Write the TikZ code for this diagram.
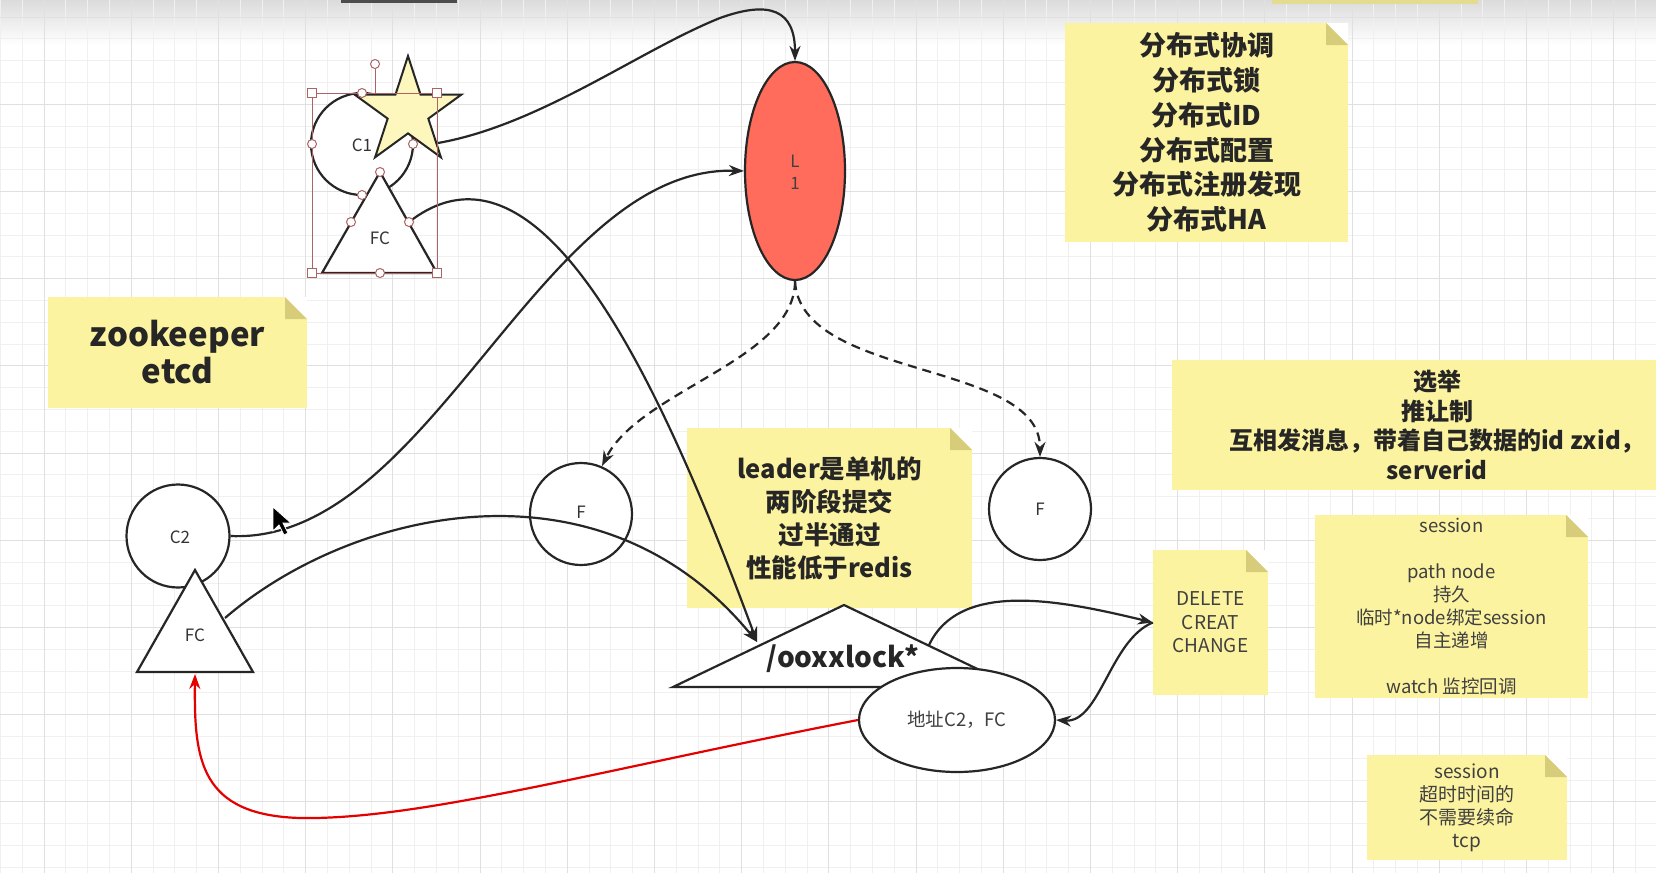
\documentclass[tikz,border=0pt]{standalone}
\usepackage{fontspec}
\setmainfont{Noto Sans CJK SC}
\usetikzlibrary{shapes.geometric,arrows.meta}
\definecolor{notey}{RGB}{252,243,160}
\definecolor{notefold}{RGB}{214,204,122}
\definecolor{leadred}{RGB}{255,108,92}
\definecolor{handle}{RGB}{170,100,100}
\definecolor{gridminor}{RGB}{240,240,240}
\definecolor{gridmajor}{RGB}{224,224,224}
\tikzset{
  shp/.style={draw=black!85, line width=2.2pt, fill=white, inner sep=0pt},
  lbl/.style={font=\fontsize{17}{22}\selectfont, text=black!80, align=center},
  conn/.style={draw=black!85, line width=2.2pt, -{Stealth[length=15pt,width=11pt]}},
  sticky/.style={rectangle, inner sep=0pt, fill=notey, align=center, text=black!85,
    path picture={
      \fill[white] (path picture bounding box.north east) -- ++(-22,0) -- ++(22,22) -- cycle;
      \fill[notefold] ([xshift=-22pt]path picture bounding box.north east) -- ++(22,22) -- ++(-22,0) -- cycle;}},
  bignote/.style={sticky, font=\bfseries\fontsize{27}{34.8}\selectfont},
  smallnote/.style={sticky, font=\fontsize{18.5}{23}\selectfont, text=black!75},
  hsq/.style={draw=handle, fill=white, line width=1pt, minimum size=9pt, inner sep=0pt, rectangle},
  hci/.style={draw=handle, fill=white, line width=1pt, minimum size=9pt, inner sep=0pt, circle}
}
\begin{document}
\begin{tikzpicture}[x=1pt, y=-1pt]
  \useasboundingbox (0,0) rectangle (1656,873);
  \clip (0,0) rectangle (1656,873);
  % fundo e grade
  \fill[white] (0,0) rectangle (1656,873);
  \shade[top color=black!14, bottom color=white] (0,0) rectangle (1656,45);
  \foreach \gx in {0.4,22.2,...,1656} \draw[gridminor, line width=1pt] (\gx,0) -- (\gx,873);
  \foreach \gy in {-4.8,17,...,873} \draw[gridminor, line width=1pt] (0,\gy) -- (1656,\gy);
  \foreach \gx in {44,131.2,...,1656} \draw[gridmajor, line width=1pt] (\gx,0) -- (\gx,873);
  \foreach \gy in {17,104.2,...,873} \draw[gridmajor, line width=1pt] (0,\gy) -- (1656,\gy);
  \fill[black!70] (341,0) rectangle (457,3);
  \fill[notey!90!black] (1272,0) rectangle (1478,4);

  % notas
  \node[bignote, minimum width=259pt, minimum height=111pt, font=\bfseries\fontsize{33}{37}\selectfont] (zk) at (177.5,352.5) {zookeeper\\etcd};
  \node[bignote, minimum width=283pt, minimum height=219pt] (dist) at (1206.5,132.5)
    {分布式协调\\分布式锁\\分布式ID\\分布式配置\\分布式注册发现\\分布式HA};
  \node[bignote, minimum width=285pt, minimum height=180pt, font=\bfseries\fontsize{25.5}{33}\selectfont] (ldr) at (829.5,518)
    {leader是单机的\\两阶段提交\\过半通过\\性能低于redis};
  \node[bignote, minimum width=530pt, minimum height=130pt, font=\bfseries\fontsize{24}{29.5}\selectfont] (elec) at (1437,425)
    {选举\\推让制\\互相发消息，带着自己数据的id zxid，\\serverid};
  \node[smallnote, minimum width=115pt, minimum height=145pt, font=\fontsize{19}{23.5}\selectfont] (del) at (1210.5,622.5)
    {DELETE\\CREAT\\CHANGE};
  \node[smallnote, minimum width=273pt, minimum height=183pt] (sess) at (1451.5,606.5)
    {session\\[23pt]path node\\持久\\临时*node绑定session\\自主递增\\[23pt]watch 监控回调};
  \node[smallnote, minimum width=200pt, minimum height=105pt, font=\fontsize{19}{23}\selectfont] (tmo) at (1467,807.5)
    {session\\超时时间的\\不需要续命\\tcp};

  % cliente 1 selecionado
  \node[shp, circle, minimum size=102pt] (c1) at (362,144) {};
  \node[lbl] at (362,145) {C1};
  \node[shp, star, star points=5, star point ratio=2.618, minimum size=112pt, fill=notey!70, line width=2pt] (st) at (408,112) {};
  \filldraw[shp] (380,172) -- (437,273) -- (322,273) -- cycle;
  \node[lbl] (fc1) at (380,238) {FC};
  \coordinate (stout) at (438,143);
  \coordinate (fc1out) at (409,222);

  % cliente 2
  \node[shp, circle, minimum size=103pt] (c2) at (178,536) {};
  \node[lbl] at (180,537) {C2};
  \filldraw[shp] (195,570) -- (253,672) -- (137,672) -- cycle;
  \node[lbl] (fc2) at (195,635) {FC};
  \coordinate (fc2out) at (225,618);
  \coordinate (fc2in) at (195,674);

  % leader e followers
  \node[shp, ellipse, fill=leadred, minimum width=100pt, minimum height=218pt] (L1) at (795,171) {};
  \node[lbl, text=black!75] at (795,172) {L\\1};
  \node[shp, circle, minimum size=102pt] (F1) at (581,514) {};
  \node[lbl] at (581,512) {F};
  \node[shp, circle, minimum size=102pt] (F2) at (1040,509) {};
  \node[lbl] at (1040,509) {F};

  % lock
  \filldraw[shp] (673,687) -- (844,605) -- (1015,687) -- cycle;
  \node[font=\bfseries\fontsize{28}{32}\selectfont, text=black!85] (lock) at (843,659) {/ooxxlock*};
  \coordinate (lockin) at (757,642);
  \coordinate (lockout) at (929,645);
  \node[shp, ellipse, minimum width=196pt, minimum height=104pt, font=\fontsize{18.5}{22}\selectfont, text=black!75] (addr) at (957,720) {地址C2，FC};

  % conexoes
  \draw[conn] (stout) .. controls (540,125) and (640,50) .. (720,18) .. controls (770,0) and (795,10) .. (L1.north);
  \draw[conn] (c2.east) .. controls (430,545) and (540,165) .. (L1.west);
  \draw[conn] (fc1out) .. controls (540,120) and (660,380) .. (lockin);
  \draw[conn] (fc2out) .. controls (350,510) and (600,450) .. (lockin);
  \draw[conn, dash pattern=on 9pt off 6pt] (L1.south) .. controls (795,360) and (640,390) .. (602,466);
  \draw[conn, dash pattern=on 9pt off 6pt] (L1.south) .. controls (800,380) and (1040,360) .. (F2.north);
  \draw[conn] (lockout) .. controls (960,580) and (1060,600) .. (del.west);
  \draw[conn] (del.west) .. controls (1110,640) and (1100,723) .. (addr.east);
  \draw[conn, draw=red!90!black, -{Stealth[length=15pt,width=11pt,red!90!black]}] (addr.west) .. controls (600,770) and (420,820) .. (300,818) .. controls (200,815) and (194,760) .. (fc2in);

  % selecao
  \draw[handle, line width=1pt] (312,93) rectangle (437,273);
  \draw[handle, line width=1pt] (375,69) -- (375,93);
  \foreach \hx/\hy in {312/93, 437/93, 312/273, 437/273} \node[hsq] at (\hx,\hy) {};
  \foreach \hx/\hy in {375/64, 362/93, 312/144, 413/144, 380/172, 362/195, 351/222, 409/222, 380/273} \node[hci] at (\hx,\hy) {};

  % cursor
  \filldraw[black, draw=white, line width=0.8pt] (273,507) -- (273,531) -- (279,525) -- (284,535) -- (288,533) -- (283,523) -- (291,523) -- cycle;
\end{tikzpicture}
\end{document}
